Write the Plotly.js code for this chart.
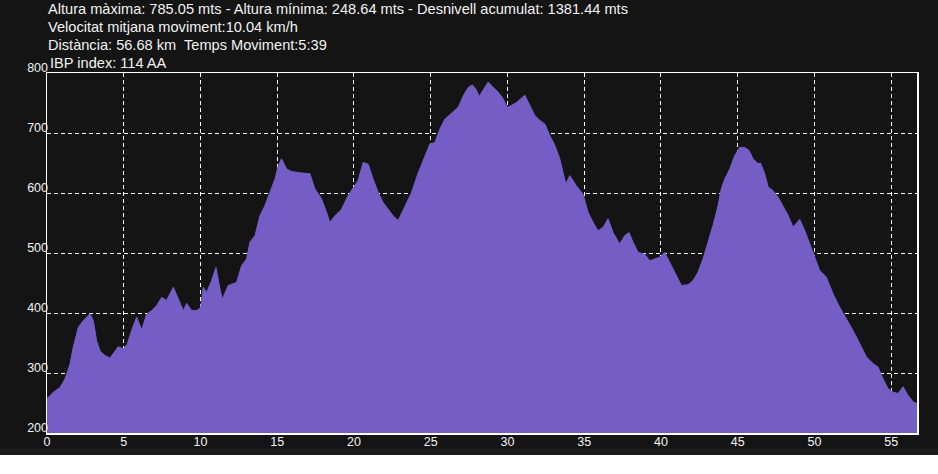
<!DOCTYPE html>
<html>
<head>
<meta charset="utf-8">
<script src="https://cdn.plot.ly/plotly-3.0.1.min.js"></script>
<style>html,body{margin:0;padding:0;background:#ffffff;}#chart{width:938px;height:474px;}</style>
</head>
<body>
<div id="chart"></div>
<script>
const distanceKm = [0,0.41,0.85,1.17,1.50,1.71,2.04,2.26,2.58,2.80,3.02,3.23,3.45,3.78,4.10,4.43,4.65,4.97,5.23,5.51,5.84,6.17,6.49,6.82,7.14,7.47,7.79,8.23,8.55,8.88,9.10,9.42,9.75,10.01,10.18,10.40,10.72,11.01,11.27,11.42,11.81,12.35,12.68,13.00,13.22,13.55,13.87,14.20,14.52,14.85,15.07,15.28,15.61,15.93,16.37,16.69,17.13,17.45,17.89,18.21,18.43,18.76,19.19,19.62,19.95,20.27,20.60,20.93,21.25,21.58,21.90,22.23,22.55,22.88,23.32,23.75,24.19,24.62,24.95,25.27,25.60,25.92,26.36,26.79,27.12,27.44,27.72,27.94,28.16,28.42,28.74,29.07,29.40,29.72,29.98,30.26,30.59,30.91,31.13,31.46,31.78,32.11,32.43,32.76,33.09,33.41,33.63,33.80,34.06,34.49,34.92,35.25,35.58,35.90,36.23,36.55,36.88,37.31,37.64,37.92,38.18,38.51,38.94,39.27,39.59,39.92,40.24,40.57,40.89,41.33,41.76,42.09,42.41,42.74,43.06,43.39,43.72,43.93,44.15,44.48,44.80,45.13,45.46,45.74,46.00,46.32,46.48,46.76,46.98,47.30,47.63,47.95,48.28,48.60,49.04,49.36,49.69,49.95,50.34,50.77,51.21,51.64,52.08,52.51,52.95,53.38,53.81,54.14,54.46,54.79,55.12,55.44,55.77,56.09,56.42,56.68];
const elevationM = [257,268,276,290,315,343,376,384,393,399,387,354,337,329,325,337,344,340,348,371,393,372,398,404,412,426,421,443,423,404,416,404,404,409,443,434,454,476,440,423,446,451,479,490,518,529,562,579,601,623,646,657,640,636,634,633,632,607,590,568,551,562,573,596,609,621,651,648,623,601,584,573,562,554,579,601,634,662,682,684,707,723,734,743,762,776,780,773,761,771,785,776,768,757,743,746,751,758,763,746,729,721,715,696,679,657,634,615,629,612,598,568,551,537,543,557,534,515,529,534,518,501,498,487,490,493,501,484,468,446,447,454,468,490,518,546,579,607,623,640,662,676,676,671,657,649,650,632,610,604,593,577,563,543,556,538,516,499,471,460,432,410,391,371,349,327,316,310,291,274,268,266,277,263,252,249];
const xTicks = [0,5,10,15,20,25,30,35,40,45,50,55];
const yTicks = [200,300,400,500,600,700,800];
const infoLines = [
  "Altura màxima: 785.05 mts - Altura mínima: 248.64 mts - Desnivell acumulat: 1381.44 mts",
  "Velocitat mitjana moviment:10.04 km/h",
  "Distància: 56.68 km  Temps Moviment:5:39",
  "IBP index: 114 AA"
];

const BG = '#141414';
const FILL = '#745dc5';
const TXT = '#f2f2f2';
const FONT = 'Liberation Sans, Arial, sans-serif';

const trace = {
  x: distanceKm, y: elevationM, type: 'scatter', mode: 'lines',
  line: {color: FILL, width: 1}, fill: 'tozeroy', fillcolor: FILL,
  hoverinfo: 'skip'
};

const linePx = [9, 27, 45, 63];
const lineXPx = [47, 47, 47, 49];
const plotTop = 73, plotH = 360, plotL = 47, plotW = 870;
const annotations = infoLines.map((t, i) => ({
  text: t, xref: 'paper', yref: 'paper',
  x: (lineXPx[i] - plotL) / plotW, y: (plotTop + plotH - linePx[i]) / plotH,
  xanchor: 'left', yanchor: 'middle', showarrow: false, borderpad: 0,
  font: {family: FONT, size: 14.6, color: TXT}
}));

const layout = {
  width: 938, height: 474,
  margin: {l: 47, r: 21, t: 73, b: 41, pad: 0},
  paper_bgcolor: BG, plot_bgcolor: BG,
  showlegend: false,
  font: {family: FONT, size: 12, color: TXT},
  xaxis: {
    range: [0, 56.68], tickvals: xTicks, ticktext: xTicks.map(String),
    showgrid: true, gridcolor: '#ffffff', gridwidth: 1, griddash: '4px,3px',
    showline: true, linecolor: '#ffffff', linewidth: 1.5, mirror: true,
    ticks: '', zeroline: false, fixedrange: true,
    ticklabelstandoff: -4,
    tickfont: {family: FONT, size: 12.5, color: TXT}
  },
  yaxis: {
    range: [200, 800], tickvals: yTicks, ticktext: yTicks.map(String),
    showgrid: true, gridcolor: '#ffffff', gridwidth: 1, griddash: '4px,3px',
    showline: true, linecolor: '#ffffff', linewidth: 1.5, mirror: true,
    ticks: '', zeroline: false, fixedrange: true,
    ticklabelshift: -5, ticklabelstandoff: -5,
    tickfont: {family: FONT, size: 12.5, color: TXT}
  },
  shapes: [
    {type: 'rect', xref: 'paper', yref: 'paper', x0: -0.1, x1: 1.1,
     y0: -(448 - 433) / 360, y1: -(455 - 433) / 360,
     fillcolor: '#1a1a1a', line: {width: 0}, layer: 'above'},
    {type: 'rect', xref: 'paper', yref: 'paper', x0: -0.1, x1: 1.1,
     y0: -(455 - 433) / 360, y1: -0.3,
     fillcolor: '#ffffff', line: {width: 0}, layer: 'above'}
  ],
  annotations: annotations
};

Plotly.newPlot('chart', [trace], layout, {displayModeBar: false, staticPlot: true});
</script>
</body>
</html>
